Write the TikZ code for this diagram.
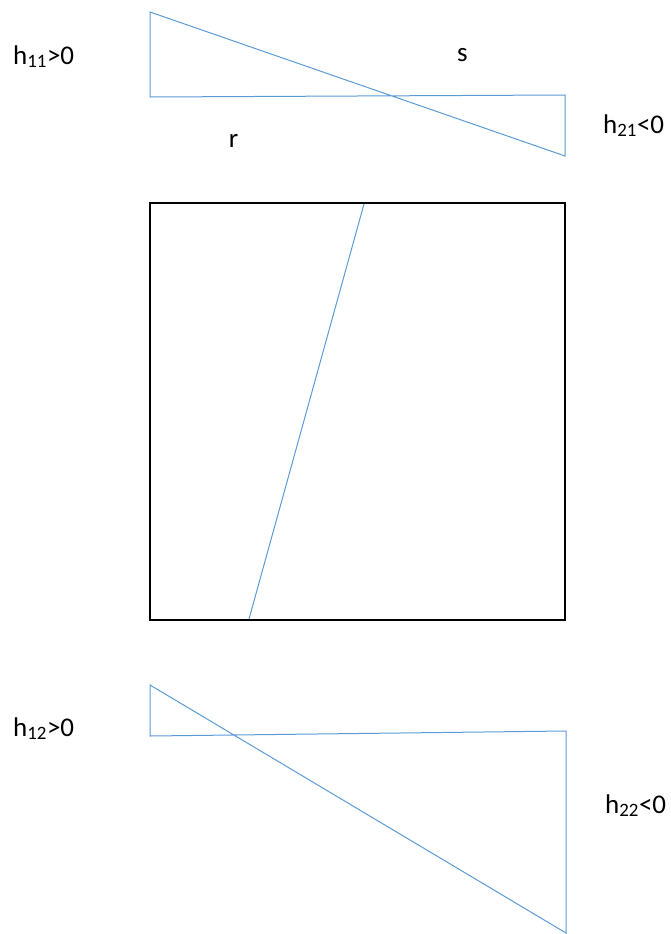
\documentclass[tikz,border=0pt]{standalone}
\usepackage{fontspec}
\setmainfont{Carlito}
\usetikzlibrary{positioning, calc}
\definecolor{cLine}{RGB}{91,155,213}
\tikzset{
	profile/.style={draw=cLine, line width=1pt, line join=miter},
	frame/.style  ={draw=black, line width=1.8pt},
	lab/.style    ={font=\fontsize{27}{32}\selectfont, inner sep=0pt, anchor=base west},
}

\begin{document}
\begin{tikzpicture}[x=1pt, y=-1pt]
	\useasboundingbox (0,0) rectangle (670,934);
	% upper diagram
	\coordinate (a1) at (150,12);
	\coordinate (a2) at (150,97);
	\coordinate (a3) at (565,95);
	\coordinate (a4) at (565,156);
	\draw[profile] (a1) -- (a2) -- (a3) -- (a4) -- cycle;
	% plate
	\coordinate (p1) at (150,203);
	\coordinate (p2) at (565,620);
	\coordinate (c1) at (364,204);
	\coordinate (c2) at (249,619);
	\draw[frame] (p1) rectangle (p2);
	\draw[profile] (c1) -- (c2);
	% lower diagram
	\coordinate (b1) at (150,685);
	\coordinate (b2) at (150,736);
	\coordinate (b3) at (566,731);
	\coordinate (b4) at (566,933);
	\draw[profile] (b1) -- (b2) -- (b3) -- (b4) -- cycle;
	% labels
	\node[lab] (h11) at (13,64) {h\textsubscript{11}>0};
	\node[lab] (h21) at (603,133) {h\textsubscript{21}<0};
	\node[lab] (h12) at (13,736) {h\textsubscript{12}>0};
	\node[lab] (h22) at (605,813) {h\textsubscript{22}<0};
	\node[lab, anchor=base] (s) at (462.5,62) {s};
	\node[lab, anchor=base] (r) at (233.5,147) {r};
\end{tikzpicture}
\end{document}
